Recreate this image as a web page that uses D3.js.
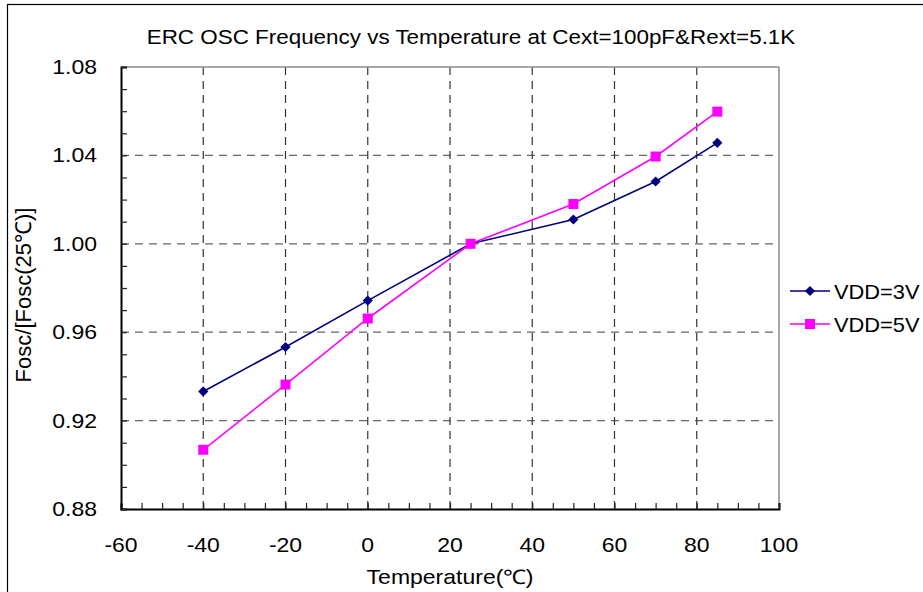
<!DOCTYPE html>
<html>
<head>
<meta charset="utf-8">
<script src="https://cdn.jsdelivr.net/npm/d3@7"></script>
<style>
  body { margin: 0; background: #fff; }
  svg { display: block; font-family: "Liberation Sans", Arial, sans-serif; }
</style>
</head>
<body>
<svg id="chart" width="923" height="592"></svg>
<script>
// data
let temps = [-40, -20, 0, 25, 50, 70, 85];
let vdd3 = [0.9332, 0.9533, 0.9743, 1.0000, 1.0110, 1.0282, 1.0457];
let vdd5 = [0.9068, 0.9363, 0.9662, 1.0000, 1.0180, 1.0395, 1.0598];
let seriesNames = ["VDD=3V", "VDD=5V"];
let xTicks = [-60, -40, -20, 0, 20, 40, 60, 80, 100];
let yTicks = [0.88, 0.92, 0.96, 1.00, 1.04, 1.08];

let svg = d3.select("#chart");
let margin = {top: 67, left: 121, right: 144, bottom: 83};
let W = 923, H = 592;
let stretch = 1.15; // the original text is a bit wider than Arial

// text drawn with a small horizontal stretch
function label(parent, px, py, str, size, anchor, sx){
    return parent.append("text")
        .attr("transform", `translate(${px},${py}) scale(${sx || stretch},1)`)
        .attr("text-anchor", anchor || "start")
        .attr("font-size", size)
        .text(str);
}

// outer frame
svg.append("rect")
    .attr("x", 7.5).attr("y", 4.5)
    .attr("width", W + 10).attr("height", H + 10)
    .attr("fill", "none").attr("stroke", "#000").attr("stroke-width", 1.2);

let x = d3.scaleLinear().domain([-60, 100]).range([margin.left, W - margin.right]);
let y = d3.scaleLinear().domain([0.88, 1.08]).range([H - margin.bottom, margin.top]);

// grid
let grid = svg.append("g");
grid.selectAll("line.h").data(yTicks.slice(1, -1)).enter().append("line")
    .attr("x1", x(-60)).attr("x2", x(100))
    .attr("y1", d => y(d)).attr("y2", d => y(d))
    .attr("stroke", "#666").attr("stroke-width", 1.3)
    .attr("stroke-dasharray", "8,6");
grid.selectAll("line.v").data(xTicks.slice(1, -1)).enter().append("line")
    .attr("y1", y(0.88)).attr("y2", y(1.08))
    .attr("x1", d => x(d)).attr("x2", d => x(d))
    .attr("stroke", "#333").attr("stroke-width", 1.2)
    .attr("stroke-dasharray", "8,6");

// plot frame (top/right gray)
svg.append("line").attr("x1", x(-60)).attr("x2", x(100)).attr("y1", y(1.08)).attr("y2", y(1.08))
    .attr("stroke", "#888").attr("stroke-width", 1.5);
svg.append("line").attr("x1", x(100)).attr("x2", x(100)).attr("y1", y(1.08)).attr("y2", y(0.88))
    .attr("stroke", "#888").attr("stroke-width", 1.5);

// axes, ticks inward
let xAxis = svg.append("g")
    .attr("transform", `translate(0,${y(0.88)})`)
    .call(d3.axisBottom(x).tickValues(d3.range(-60, 101, 5)).tickSize(-6).tickFormat(""));
xAxis.select(".domain").attr("stroke-width", 2);
xAxis.selectAll(".tick line").attr("stroke", "#222").attr("stroke-width", 1.2);

let yAxis = svg.append("g")
    .attr("transform", `translate(${x(-60)},0)`)
    .call(d3.axisLeft(y).tickValues(d3.range(88, 109, 1).map(v => v / 100)).tickSize(-6).tickFormat(""));
yAxis.select(".domain").attr("stroke-width", 2);
yAxis.selectAll(".tick line").attr("stroke", "#222").attr("stroke-width", 1.2);

// tick labels
let xl = svg.append("g");
xTicks.forEach(t => label(xl, x(t), y(0.88) + 43, t, 20, "middle"));
let yl = svg.append("g");
yTicks.forEach(t => label(yl, x(-60) - 24, y(t) + 7, d3.format(".2f")(t), 20, "end"));

// titles
label(svg, 471, 44, "ERC OSC Frequency vs Temperature at Cext=100pF&Rext=5.1K", 19.5, "middle");
label(svg, 450, 584, "Temperature(℃)", 20, "middle");
svg.append("text")
    .attr("transform", "translate(31,295) rotate(-90)")
    .attr("text-anchor", "middle").attr("font-size", 22)
    .text("Fosc/[Fosc(25℃)]");

// series
let line = d3.line().x(d => x(d[0])).y(d => y(d[1]));
let colors = ["#000080", "#ff00ff"];
let sets = [vdd3, vdd5];

function marker(g, i){
    if (i === 0) {
        return g.append("path")
            .attr("d", d3.symbol().type(d3.symbolSquare).size(52))
            .attr("transform", "rotate(45)");
    }
    return g.append("path").attr("d", d3.symbol().type(d3.symbolSquare).size(100));
}

sets.forEach((vals, i) => {
    let pts = temps.map((t, j) => [t, vals[j]]);
    svg.append("path").datum(pts)
        .attr("d", line)
        .attr("fill", "none").attr("stroke", colors[i]).attr("stroke-width", 1.6);
    let mg = svg.append("g");
    pts.forEach(p => {
        let g = mg.append("g").attr("transform", `translate(${x(p[0])},${y(p[1])})`);
        marker(g, i).attr("fill", colors[i]);
    });
});

// legend
let legend = svg.append("g").attr("transform", "translate(790,291)");
seriesNames.forEach((name, i) => {
    let g = legend.append("g").attr("transform", `translate(0,${i * 33})`);
    g.append("line").attr("x1", 0).attr("x2", 40).attr("y1", 0).attr("y2", 0)
        .attr("stroke", colors[i]).attr("stroke-width", 1.6);
    let mg = g.append("g").attr("transform", "translate(20,0)");
    marker(mg, i).attr("fill", colors[i]);
    label(g, 44, 8, name, 21, "start", 1.04);
});
</script>
</body>
</html>
